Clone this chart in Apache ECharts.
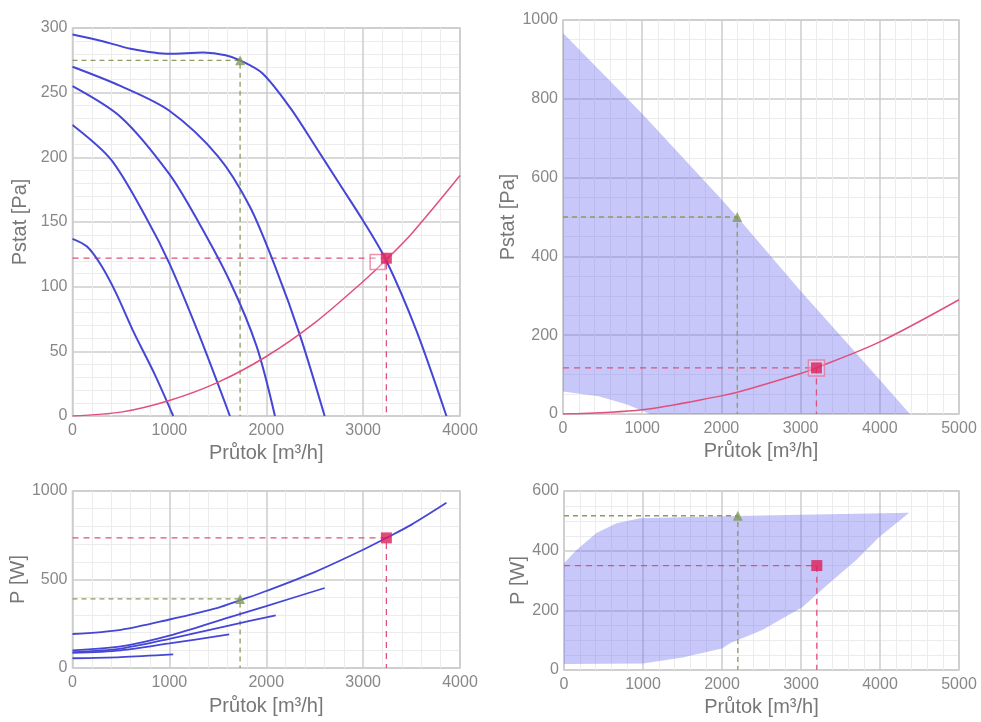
<!DOCTYPE html>
<html>
<head>
<meta charset="utf-8">
<script src="https://cdn.jsdelivr.net/npm/echarts@6/dist/echarts.min.js"></script>
<style>
  html, body { margin: 0; background: #fff; }
  #graf { width: 981px; height: 722px; }
</style>
</head>
<body>
<div id="graf"></div>
<script>
// tlakove krivky ventilatoru [m3/h, Pa]
const tlak1 = [[0,295],[300,290],[600,284],[1000,280],[1350,281],[1580,279],[1730,275],[1960,265],[2250,238],[2520,207],[2760,179],[3000,151],[3240,120],[3550,66],[3860,0]];
const tlak2 = [[0,270],[500,255],[1000,236],[1500,201],[1830,162],[2100,114],[2350,62],[2603,0]];
const tlak3 = [[0,255],[500,231],[1000,187],[1300,150],[1625,104],[1900,54],[2090,0]];
const tlak4 = [[0,225],[400,198],[770,152],[1000,118],[1300,64],[1625,0]];
const tlak5 = [[0,137],[150,131],[300,116],[450,95],[624,66],[850,32],[1040,0]];
// charakteristika potrubi
const potrubiL = [[0,0],[500,3],[1000,12],[1500,26],[2000,46],[2500,72],[3000,104],[3240,121],[3500,141],[4000,186]];
const potrubiR = [[0,0],[1000,11],[2000,46],[2200,55],[3000,103],[3200,117],[4000,183],[5000,290]];

// prikon [m3/h, W]
const prikon1 = [[0,192],[500,216],[1000,274],[1500,340],[1730,383],[2000,435],[2500,542],[3000,668],[3240,735],[3500,810],[3860,933]];
const prikon2 = [[0,100],[500,122],[1000,183],[1625,288],[2000,350],[2603,452]];
const prikon3 = [[0,90],[500,110],[1000,165],[1625,241],[2098,298]];
const prikon4 = [[0,85],[500,100],[1000,139],[1618,190]];
const prikon5 = [[0,55],[500,62],[1040,77]];

// pracovni oblasti
const oblastTlak = [[0,967],[1000,762],[2000,545],[2200,500],[3000,312],[3700,155],[4380,0],[1100,0],[1000,8],[800,25],[450,45],[0,57]];
const oblastPrikon = [[0,358],[160,402],[410,459],[665,492],[960,509],[2000,515],[3000,520],[4370,527],[3990,446],[3700,369],[3360,292],[3020,211],[2510,134],[2100,90],[2000,72],[1500,42],[1000,22],[0,20]];

// pracovni body
const bodL = [3240, 122];
const bodLObrys = [3150, 119];
const pozadL = [1730, 275];
const bodPL = [3240, 735];
const pozadPL = [1730, 390];
const bodR = [3200, 117];
const pozadR = [2200, 500];
const bodPR = [3200, 350];
const pozadPR = [2200, 517];

const modra = "#4646d6";
const cervena = "#e0507c";
const zelena = "#8c9c60";
const font = "Liberation Sans";

function osaX(grid, max, mezera) {
  return {
    type: "value", gridIndex: grid, min: 0, max: max, interval: 1000,
    name: "Průtok [m³/h]", nameLocation: "middle", nameGap: mezera,
    nameTextStyle: { color: "#777", fontSize: 20, fontFamily: font },
    axisLine: { show: false }, axisTick: { show: false },
    axisLabel: { color: "#888", fontSize: 16, fontFamily: font, margin: 7, formatter: v => String(v) },
    splitLine: { lineStyle: { color: "#cccccc", width: 1.5 } },
    minorTick: { show: false, splitNumber: 5 },
    minorSplitLine: { show: true, lineStyle: { color: "#ececec" } }
  };
}

function osaY(grid, max, interval, nazev, minor, mezera) {
  return {
    type: "value", gridIndex: grid, min: 0, max: max, interval: interval,
    name: nazev, nameLocation: "middle", nameGap: mezera,
    nameTextStyle: { color: "#777", fontSize: 20, fontFamily: font },
    axisLine: { show: false }, axisTick: { show: false },
    axisLabel: { color: "#888", fontSize: 16, fontFamily: font, margin: 5, formatter: v => String(v) },
    splitLine: { lineStyle: { color: "#cccccc", width: 1.5 } },
    minorTick: { show: false, splitNumber: minor },
    minorSplitLine: { show: true, lineStyle: { color: "#ececec" } }
  };
}

function krivka(data, osa, barva, sirka) {
  return {
    type: "line", xAxisIndex: osa, yAxisIndex: osa, data: data,
    smooth: 0.3, symbol: "none", silent: true,
    lineStyle: { color: barva, width: sirka }, z: 4
  };
}

function vodici(bod, osa, barva, typ) {
  return {
    type: "line", xAxisIndex: osa, yAxisIndex: osa, symbol: "none", silent: true,
    data: [[0, bod[1]], bod, [bod[0], 0]],
    lineStyle: { color: barva, width: 1.3, type: typ }, z: 3
  };
}

function znacka(bod, osa, tvar, vel, styl) {
  return {
    type: "scatter", xAxisIndex: osa, yAxisIndex: osa, data: [bod],
    symbol: tvar, symbolSize: vel, silent: true, itemStyle: styl, z: 6
  };
}

function oblast(body, osa) {
  return {
    type: "custom", xAxisIndex: osa, yAxisIndex: osa, data: body, silent: true, z: 2,
    renderItem: function (params, api) {
      if (params.dataIndex !== 0) return null;
      return {
        type: "polygon",
        shape: { points: body.map(p => api.coord(p)) },
        style: { fill: "rgba(100,100,240,0.36)" }
      };
    }
  };
}

const chart = echarts.init(document.getElementById("graf"));
const option = {
  animation: false,
  grid: [
    { left: 72.5, top: 28, width: 387.5, height: 388, show: true, borderColor: "#cccccc", borderWidth: 1.5 },
    { left: 563, top: 20, width: 396, height: 394, show: true, borderColor: "#cccccc", borderWidth: 1.5 },
    { left: 72.5, top: 491, width: 387.5, height: 177, show: true, borderColor: "#cccccc", borderWidth: 1.5 },
    { left: 564, top: 491, width: 395, height: 179, show: true, borderColor: "#cccccc", borderWidth: 1.5 }
  ],
  xAxis: [osaX(0, 4000, 17), osaX(1, 5000, 17), osaX(2, 4000, 28), osaX(3, 5000, 27)],
  yAxis: [
    osaY(0, 300, 50, "Pstat [Pa]", 5, 42),
    osaY(1, 1000, 200, "Pstat [Pa]", 4, 34),
    osaY(2, 1000, 500, "P [W]", 5, 42),
    osaY(3, 600, 200, "P [W]", 4, 34)
  ],
  series: [
    // vlevo nahore
    krivka(tlak1, 0, modra, 2),
    krivka(tlak2, 0, modra, 2),
    krivka(tlak3, 0, modra, 2),
    krivka(tlak4, 0, modra, 2),
    krivka(tlak5, 0, modra, 2),
    krivka(potrubiL, 0, cervena, 1.5),
    vodici(pozadL, 0, zelena, [5, 4]),
    vodici(bodL, 0, cervena, [6, 5]),
    znacka(pozadL, 0, "triangle", 10, { color: "#7f9a55" }),
    znacka(bodLObrys, 0, "rect", 15, { color: "rgba(255,255,255,0.4)", borderColor: "#e8769a", borderWidth: 1.5 }),
    znacka(bodL, 0, "rect", 11, { color: "#dc1e5a" }),
    // vpravo nahore
    oblast(oblastTlak, 1),
    krivka(potrubiR, 1, cervena, 1.5),
    vodici(pozadR, 1, zelena, [5, 4]),
    vodici(bodR, 1, cervena, [6, 5]),
    znacka(pozadR, 1, "triangle", 10, { color: "#7f9a55" }),
    znacka(bodR, 1, "rect", 16, { color: "rgba(255,255,255,0.3)", borderColor: "#e8769a", borderWidth: 1.5 }),
    znacka(bodR, 1, "rect", 11, { color: "#dc1e5a" }),
    // vlevo dole
    krivka(prikon1, 2, modra, 1.8),
    krivka(prikon2, 2, modra, 1.8),
    krivka(prikon3, 2, modra, 1.8),
    krivka(prikon4, 2, modra, 1.8),
    krivka(prikon5, 2, modra, 1.8),
    vodici(pozadPL, 2, zelena, [5, 4]),
    vodici(bodPL, 2, cervena, [6, 5]),
    znacka(pozadPL, 2, "triangle", 10, { color: "#7f9a55" }),
    znacka(bodPL, 2, "rect", 11, { color: "#dc1e5a" }),
    // vpravo dole
    oblast(oblastPrikon, 3),
    vodici(pozadPR, 3, zelena, [5, 4]),
    vodici(bodPR, 3, cervena, [6, 5]),
    znacka(pozadPR, 3, "triangle", 10, { color: "#7f9a55" }),
    znacka(bodPR, 3, "rect", 11, { color: "#dc1e5a" })
  ]
};
chart.setOption(option);
</script>
</body>
</html>
